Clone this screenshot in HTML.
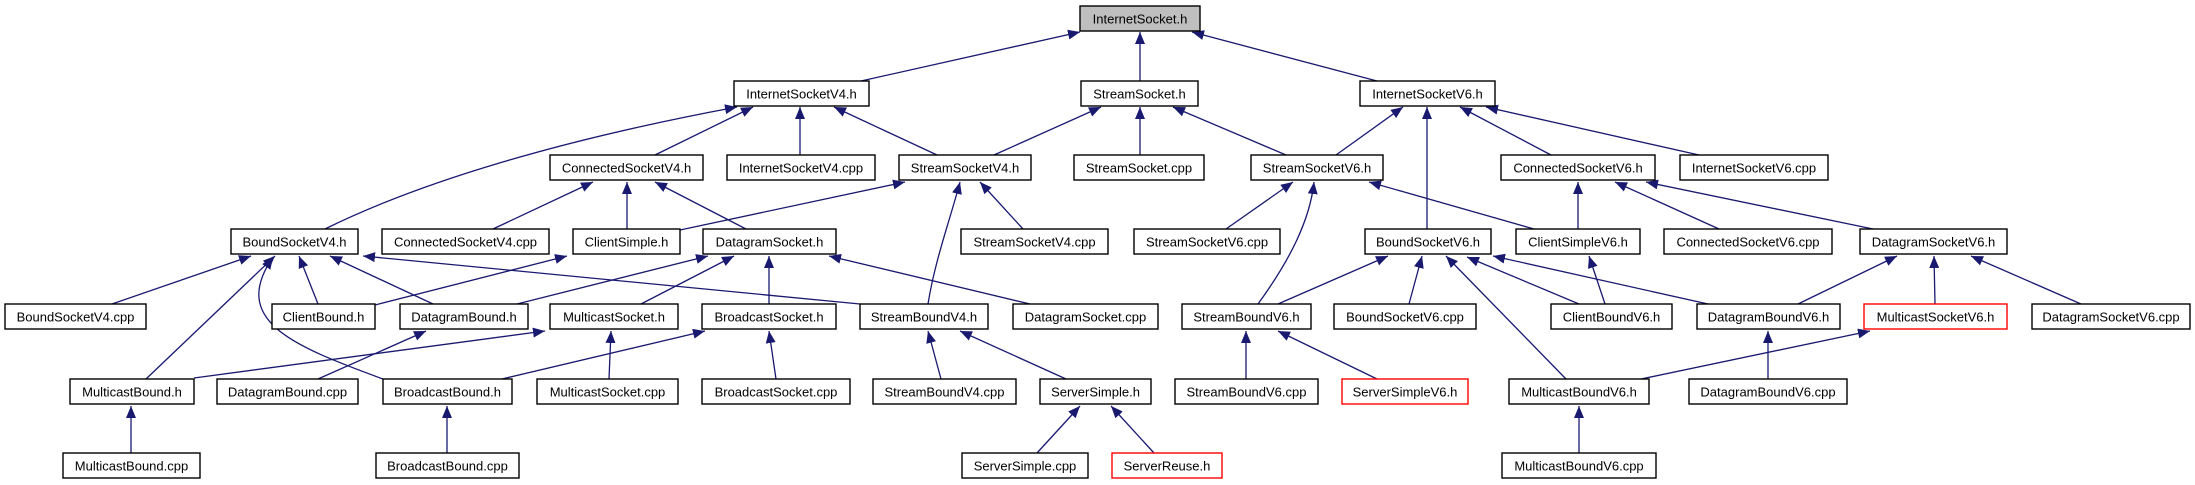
<!DOCTYPE html>
<html><head><meta charset="utf-8"><style>
html,body{margin:0;padding:0;background:#fff;width:2195px;height:485px;overflow:hidden}
svg text{font-family:"Liberation Sans",Arial,sans-serif;font-size:13px;fill:#000}
.e{stroke:#191970;stroke-width:1.3;fill:none;marker-end:url(#a)}
.n{fill:#fff;stroke:#000;stroke-width:1.4}
.r{fill:#fff;stroke:#ff0000;stroke-width:1.4}
</style></head><body>
<svg width="2195" height="485" viewBox="0 0 2195 485" xmlns="http://www.w3.org/2000/svg">
<defs><marker id="a" markerWidth="12" markerHeight="10" refX="12" refY="5" orient="auto" markerUnits="userSpaceOnUse"><path d="M0,0 L12,5 L0,10z" fill="#191970"/></marker></defs>
<g>
<line class="e" x1="861" y1="81" x2="1080" y2="32"/>
<line class="e" x1="1140" y1="81" x2="1140" y2="32"/>
<line class="e" x1="1377" y1="81" x2="1192" y2="32"/>
<path class="e" d="M325,229 C420,182 560,140 737,107"/>
<line class="e" x1="655" y1="155" x2="753" y2="107"/>
<line class="e" x1="800" y1="155" x2="800" y2="107"/>
<line class="e" x1="937" y1="155" x2="834" y2="107"/>
<line class="e" x1="994" y1="155" x2="1101" y2="107"/>
<line class="e" x1="1140" y1="155" x2="1140" y2="107"/>
<line class="e" x1="1286" y1="155" x2="1173" y2="107"/>
<line class="e" x1="1336" y1="155" x2="1403" y2="107"/>
<line class="e" x1="1427" y1="229" x2="1427" y2="107"/>
<line class="e" x1="1551" y1="155" x2="1460" y2="107"/>
<line class="e" x1="1699" y1="155" x2="1486" y2="107"/>
<line class="e" x1="493" y1="229" x2="593" y2="182"/>
<line class="e" x1="627" y1="229" x2="627" y2="182"/>
<line class="e" x1="746" y1="229" x2="655" y2="182"/>
<line class="e" x1="680" y1="230" x2="905" y2="182"/>
<path class="e" d="M928,304 C935,260 950,220 960,182"/>
<line class="e" x1="1023" y1="229" x2="980" y2="182"/>
<line class="e" x1="1226" y1="229" x2="1293" y2="182"/>
<path class="e" d="M1258,304 C1290,260 1310,220 1314,182"/>
<line class="e" x1="1534" y1="229" x2="1369" y2="182"/>
<line class="e" x1="1578" y1="229" x2="1578" y2="182"/>
<line class="e" x1="1719" y1="229" x2="1615" y2="182"/>
<line class="e" x1="1873" y1="229" x2="1646" y2="182"/>
<line class="e" x1="112" y1="304" x2="251" y2="256"/>
<line class="e" x1="318" y1="304" x2="299" y2="256"/>
<line class="e" x1="433" y1="304" x2="330" y2="256"/>
<line class="e" x1="146" y1="379" x2="275" y2="256"/>
<path class="e" d="M383,379 C290,345 230,320 273,257"/>
<line class="e" x1="860" y1="304" x2="363" y2="256"/>
<line class="e" x1="375" y1="305" x2="567" y2="256"/>
<line class="e" x1="517" y1="304" x2="708" y2="256"/>
<line class="e" x1="641" y1="304" x2="734" y2="256"/>
<line class="e" x1="769" y1="304" x2="769" y2="256"/>
<line class="e" x1="1030" y1="304" x2="829" y2="256"/>
<line class="e" x1="1278" y1="304" x2="1388" y2="256"/>
<line class="e" x1="1409" y1="304" x2="1422" y2="256"/>
<line class="e" x1="1566" y1="379" x2="1446" y2="256"/>
<line class="e" x1="1579" y1="304" x2="1467" y2="257"/>
<line class="e" x1="1708" y1="304" x2="1493" y2="256"/>
<line class="e" x1="1605" y1="304" x2="1589" y2="256"/>
<line class="e" x1="1798" y1="304" x2="1897" y2="256"/>
<line class="e" x1="1935" y1="304" x2="1934" y2="256"/>
<line class="e" x1="2081" y1="304" x2="1971" y2="256"/>
<line class="e" x1="194" y1="378" x2="545" y2="331"/>
<line class="e" x1="318" y1="379" x2="426" y2="331"/>
<line class="e" x1="502" y1="379" x2="705" y2="331"/>
<line class="e" x1="609" y1="379" x2="611" y2="331"/>
<line class="e" x1="776" y1="379" x2="769" y2="331"/>
<line class="e" x1="941" y1="379" x2="928" y2="331"/>
<line class="e" x1="1066" y1="379" x2="960" y2="331"/>
<line class="e" x1="1246" y1="379" x2="1246" y2="331"/>
<line class="e" x1="1377" y1="379" x2="1278" y2="331"/>
<line class="e" x1="1641" y1="379" x2="1870" y2="331"/>
<line class="e" x1="1768" y1="379" x2="1768" y2="331"/>
<line class="e" x1="131" y1="453" x2="131" y2="406"/>
<line class="e" x1="447" y1="453" x2="447" y2="406"/>
<line class="e" x1="1037" y1="453" x2="1080" y2="406"/>
<line class="e" x1="1154" y1="453" x2="1111" y2="406"/>
<line class="e" x1="1579" y1="453" x2="1579" y2="406"/>
</g>
<g text-anchor="middle">
<rect x="1080" y="6" width="120" height="25" fill="#bfbfbf" stroke="#000" stroke-width="1.4"/><text x="1140" y="23.5">InternetSocket.h</text>
<rect class="n" x="734" y="81" width="135" height="25"/><text x="801.5" y="98.5">InternetSocketV4.h</text>
<rect class="n" x="1081" y="81" width="117" height="25"/><text x="1139.5" y="98.5">StreamSocket.h</text>
<rect class="n" x="1360" y="81" width="135" height="25"/><text x="1427.5" y="98.5">InternetSocketV6.h</text>
<rect class="n" x="550" y="155" width="153" height="25"/><text x="626.5" y="172.5">ConnectedSocketV4.h</text>
<rect class="n" x="727" y="155" width="148" height="25"/><text x="801" y="172.5">InternetSocketV4.cpp</text>
<rect class="n" x="899" y="155" width="132" height="25"/><text x="965" y="172.5">StreamSocketV4.h</text>
<rect class="n" x="1074" y="155" width="130" height="25"/><text x="1139" y="172.5">StreamSocket.cpp</text>
<rect class="n" x="1251" y="155" width="132" height="25"/><text x="1317" y="172.5">StreamSocketV6.h</text>
<rect class="n" x="1501" y="155" width="154" height="25"/><text x="1578" y="172.5">ConnectedSocketV6.h</text>
<rect class="n" x="1680" y="155" width="148" height="25"/><text x="1754" y="172.5">InternetSocketV6.cpp</text>
<rect class="n" x="231" y="229" width="127" height="25"/><text x="294.5" y="246.5">BoundSocketV4.h</text>
<rect class="n" x="382" y="229" width="167" height="25"/><text x="465.5" y="246.5">ConnectedSocketV4.cpp</text>
<rect class="n" x="573" y="229" width="107" height="25"/><text x="626.5" y="246.5">ClientSimple.h</text>
<rect class="n" x="703" y="229" width="133" height="25"/><text x="769.5" y="246.5">DatagramSocket.h</text>
<rect class="n" x="961" y="229" width="147" height="25"/><text x="1034.5" y="246.5">StreamSocketV4.cpp</text>
<rect class="n" x="1134" y="229" width="146" height="25"/><text x="1207" y="246.5">StreamSocketV6.cpp</text>
<rect class="n" x="1365" y="229" width="126" height="25"/><text x="1428" y="246.5">BoundSocketV6.h</text>
<rect class="n" x="1516" y="229" width="124" height="25"/><text x="1578" y="246.5">ClientSimpleV6.h</text>
<rect class="n" x="1664" y="229" width="168" height="25"/><text x="1748" y="246.5">ConnectedSocketV6.cpp</text>
<rect class="n" x="1860" y="229" width="147" height="25"/><text x="1933.5" y="246.5">DatagramSocketV6.h</text>
<rect class="n" x="5" y="304" width="141" height="25"/><text x="75.5" y="321.5">BoundSocketV4.cpp</text>
<rect class="n" x="272" y="304" width="103" height="25"/><text x="323.5" y="321.5">ClientBound.h</text>
<rect class="n" x="400" y="304" width="128" height="25"/><text x="464" y="321.5">DatagramBound.h</text>
<rect class="n" x="550" y="304" width="128" height="25"/><text x="614" y="321.5">MulticastSocket.h</text>
<rect class="n" x="702" y="304" width="134" height="25"/><text x="769" y="321.5">BroadcastSocket.h</text>
<rect class="n" x="860" y="304" width="128" height="25"/><text x="924" y="321.5">StreamBoundV4.h</text>
<rect class="n" x="1013" y="304" width="145" height="25"/><text x="1085.5" y="321.5">DatagramSocket.cpp</text>
<rect class="n" x="1182" y="304" width="129" height="25"/><text x="1246.5" y="321.5">StreamBoundV6.h</text>
<rect class="n" x="1334" y="304" width="142" height="25"/><text x="1405" y="321.5">BoundSocketV6.cpp</text>
<rect class="n" x="1551" y="304" width="121" height="25"/><text x="1611.5" y="321.5">ClientBoundV6.h</text>
<rect class="n" x="1697" y="304" width="143" height="25"/><text x="1768.5" y="321.5">DatagramBoundV6.h</text>
<rect class="r" x="1864" y="304" width="143" height="25"/><text x="1935.5" y="321.5">MulticastSocketV6.h</text>
<rect class="n" x="2032" y="304" width="158" height="25"/><text x="2111" y="321.5">DatagramSocketV6.cpp</text>
<rect class="n" x="70" y="379" width="124" height="25"/><text x="132" y="396.5">MulticastBound.h</text>
<rect class="n" x="217" y="379" width="141" height="25"/><text x="287.5" y="396.5">DatagramBound.cpp</text>
<rect class="n" x="383" y="379" width="129" height="25"/><text x="447.5" y="396.5">BroadcastBound.h</text>
<rect class="n" x="537" y="379" width="141" height="25"/><text x="607.5" y="396.5">MulticastSocket.cpp</text>
<rect class="n" x="702" y="379" width="148" height="25"/><text x="776" y="396.5">BroadcastSocket.cpp</text>
<rect class="n" x="873" y="379" width="143" height="25"/><text x="944.5" y="396.5">StreamBoundV4.cpp</text>
<rect class="n" x="1040" y="379" width="111" height="25"/><text x="1095.5" y="396.5">ServerSimple.h</text>
<rect class="n" x="1175" y="379" width="143" height="25"/><text x="1246.5" y="396.5">StreamBoundV6.cpp</text>
<rect class="r" x="1342" y="379" width="126" height="25"/><text x="1405" y="396.5">ServerSimpleV6.h</text>
<rect class="n" x="1509" y="379" width="140" height="25"/><text x="1579" y="396.5">MulticastBoundV6.h</text>
<rect class="n" x="1689" y="379" width="158" height="25"/><text x="1768" y="396.5">DatagramBoundV6.cpp</text>
<rect class="n" x="63" y="453" width="137" height="25"/><text x="131.5" y="470.5">MulticastBound.cpp</text>
<rect class="n" x="376" y="453" width="143" height="25"/><text x="447.5" y="470.5">BroadcastBound.cpp</text>
<rect class="n" x="962" y="453" width="126" height="25"/><text x="1025" y="470.5">ServerSimple.cpp</text>
<rect class="r" x="1112" y="453" width="110" height="25"/><text x="1167" y="470.5">ServerReuse.h</text>
<rect class="n" x="1502" y="453" width="154" height="25"/><text x="1579" y="470.5">MulticastBoundV6.cpp</text>
</g>
</svg>
</body></html>
